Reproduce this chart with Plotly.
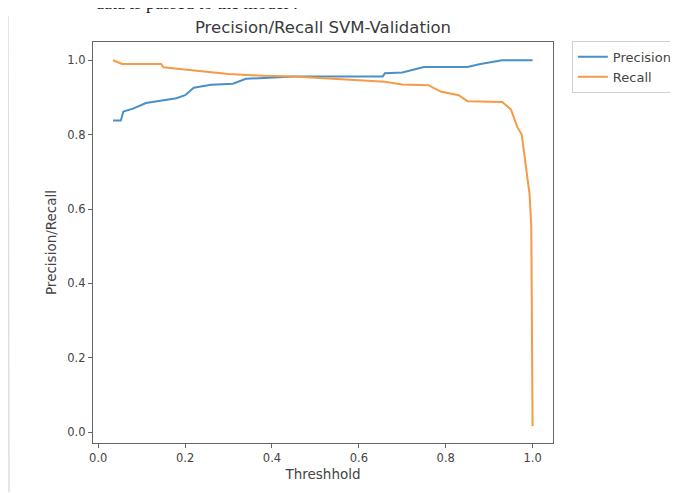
import plotly.graph_objects as go

# Precision curve
prec_x = [0.034, 0.052, 0.058, 0.08, 0.11, 0.15, 0.18, 0.20, 0.22, 0.26, 0.31, 0.34,
          0.39, 0.45, 0.53, 0.655, 0.66, 0.70, 0.75, 0.85, 0.88, 0.93, 1.0]
prec_y = [0.838, 0.838, 0.862, 0.870, 0.885, 0.893, 0.898, 0.906, 0.926, 0.934, 0.937, 0.950,
          0.953, 0.956, 0.956, 0.956, 0.965, 0.967, 0.982, 0.982, 0.990, 1.0, 1.0]

# Recall curve
rec_x = [0.034, 0.05, 0.055, 0.145, 0.15, 0.21, 0.26, 0.30, 0.38, 0.45, 0.53, 0.60,
         0.66, 0.70, 0.76, 0.79, 0.83, 0.85, 0.93, 0.95, 0.965, 0.975, 0.985, 0.993,
         0.997, 0.999, 1.0]
rec_y = [1.0, 0.993, 0.99, 0.99, 0.981, 0.974, 0.969, 0.963, 0.958, 0.956, 0.951, 0.946,
         0.942, 0.935, 0.933, 0.915, 0.906, 0.89, 0.888, 0.868, 0.82, 0.80, 0.71, 0.64,
         0.555, 0.30, 0.017]

tick_vals = [0.0, 0.2, 0.4, 0.6, 0.8, 1.0]
tick_text = ["0.0", "0.2", "0.4", "0.6", "0.8", "1.0"]

font = "DejaVu Sans"

# page has an 8px body margin, so the figure is 8px smaller in each direction
W, H = 670, 485

fig = go.Figure()
fig.add_trace(go.Scatter(x=prec_x, y=prec_y, mode="lines", name="Precision",
                         line=dict(color="#4a90c8", width=2)))
fig.add_trace(go.Scatter(x=rec_x, y=rec_y, mode="lines", name="Recall",
                         line=dict(color="#f59a45", width=2)))

axis_common = dict(showgrid=False, zeroline=False, showline=True, mirror=True,
                   linecolor="#666", linewidth=1.2, ticks="outside", ticklen=4,
                   tickcolor="#666", tickfont=dict(family=font, size=11.5, color="#444"),
                   tickvals=tick_vals, ticktext=tick_text, automargin=False)

fig.update_layout(
    width=W, height=H,
    paper_bgcolor="white", plot_bgcolor="white",
    margin=dict(l=85, r=125, t=34, b=50, autoexpand=False),
    font=dict(family=font, color="#444"),
    title=dict(text="Precision/Recall SVM-Validation", x=315 / W, xanchor="center",
               y=1 - 19 / H, yanchor="middle", font=dict(family=font, size=16.5, color="#3a3a3a")),
    xaxis=dict(range=[-0.012, 1.047], title=dict(text="Threshhold", standoff=5,
               font=dict(family=font, size=13.5, color="#444")), **axis_common),
    yaxis=dict(range=[-0.029, 1.049], title=dict(text="Precision/Recall", standoff=7,
               font=dict(family=font, size=13.5, color="#444")), **axis_common),
    legend=dict(x=1.041, y=1.003, xanchor="left", yanchor="top",
                bordercolor="#d0d0d0", borderwidth=1, bgcolor="white",
                font=dict(family=font, size=13, color="#444"), tracegroupgap=0),
    showlegend=True,
    annotations=[
        dict(text="data is passed to the model :", xref="paper", yref="paper",
             x=0.0, y=1.068, xanchor="left", yanchor="bottom", showarrow=False,
             font=dict(family="Liberation Serif", size=18, color="#222")),
        dict(text="", xref="paper", yref="paper", x=-0.189, y=-0.125,
             showarrow=True, arrowhead=0, arrowwidth=1.5, arrowcolor="#dddddd",
             ax=0, ay=-479, standoff=0, startstandoff=0),
    ],
)

fig.write_html("out.html")
